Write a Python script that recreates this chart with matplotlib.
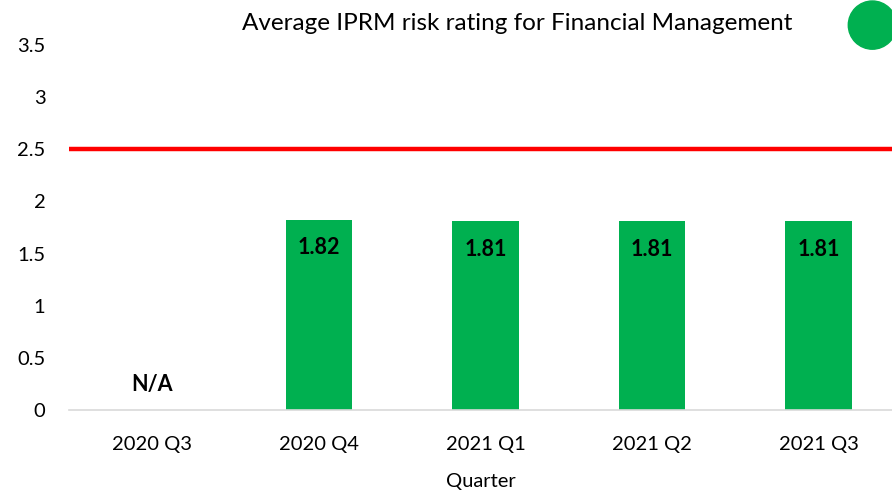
import numpy as np
import matplotlib.pyplot as plt
from matplotlib.patches import Ellipse

# ------------------------------------------------
# Data
# ------------------------------------------------

quarters = ["2020 Q3", "2020 Q4", "2021 Q1", "2021 Q2", "2021 Q3"]
ratings = [np.nan, 1.82, 1.81, 1.81, 1.81]
threshold = 2.5

green = "#00B050"
plt.rcParams['font.family'] = ['Lato', 'DejaVu Sans']

fig = plt.figure(figsize=(8.92, 4.92), dpi=100)
ax = fig.add_axes([0.0774, 0.1667, 0.9226, 0.7418])

x = np.arange(len(quarters))
vals = np.nan_to_num(ratings)
ax.bar(x, vals, width=0.4, color=green, zorder=2)

# value labels
for xi, v in zip(x, ratings):
    if np.isnan(v):
        ax.text(xi, 0.24, "N/A", ha='center', va='center',
                fontsize=15.5, fontweight='bold')
    else:
        ax.annotate(f"{v:.2f}", (xi, v), xytext=(0, -20),
                    textcoords='offset points', ha='center', va='center',
                    fontsize=15.5, fontweight='bold')

# threshold line
ax.axhline(threshold, color='#FF0000', linewidth=3.2, zorder=3)

ax.set_xlim(-0.5, 4.44)
ax.set_ylim(0, 3.5)
ax.set_xticks(x)
ax.set_xticklabels(quarters)
ax.set_yticks([0, 0.5, 1, 1.5, 2, 2.5, 3, 3.5])
ax.set_yticklabels(["0", "0.5", "1", "1.5", "2", "2.5", "3", "3.5"])
ax.tick_params(length=0, labelsize=14.5)
ax.tick_params(axis='y', pad=17)
ax.tick_params(axis='x', pad=19)

for s in ['top', 'right', 'left']:
    ax.spines[s].set_visible(False)
ax.spines['bottom'].set_color('#D9D9D9')
ax.spines['bottom'].set_linewidth(1.2)

ax.set_xlabel("Quarter", fontsize=14.5, labelpad=14)

fig.text(0.58, 0.953, "Average IPRM risk rating for Financial Management",
         ha='center', va='center', fontsize=17.5)

# status indicator
circle = Ellipse((0.978, 0.949), 0.054, 0.098, transform=fig.transFigure,
                 color=green)
fig.patches.append(circle)

fig.savefig("out.png", dpi=100)
